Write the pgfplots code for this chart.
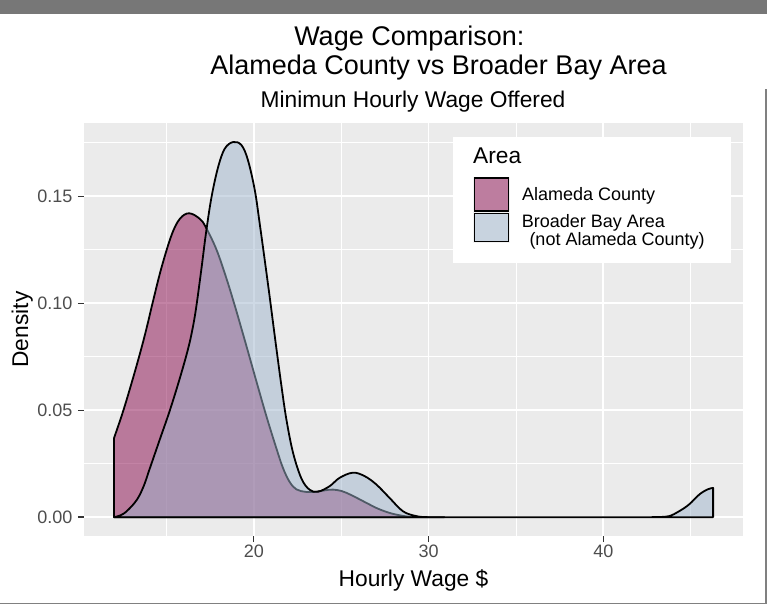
\documentclass[border=0pt]{standalone}
\usepackage{fontspec}
\setmainfont{Liberation Sans}
\usepackage{pgfplots}
\usepackage{pgfplotstable}
\pgfplotsset{compat=1.18}
\definecolor{panelbg}{HTML}{EBEBEB}
\definecolor{alam}{RGB}{137,9,77}
\definecolor{bay}{RGB}{159,181,205}
\definecolor{ticklab}{HTML}{4D4D4D}
\definecolor{tickcol}{HTML}{333333}
\definecolor{topbar}{HTML}{777777}
\definecolor{keybg}{HTML}{F2F2F2}

\pgfplotstableread{
x d
12.00 0.0369
12.53 0.0497
13.10 0.0653
13.58 0.0793
13.90 0.0895
14.25 0.1015
14.73 0.1170
15.30 0.1320
15.77 0.1395
16.30 0.1421
16.91 0.1395
17.26 0.1355
17.87 0.1250
18.44 0.1115
18.91 0.0990
19.30 0.0880
19.58 0.0800
20.15 0.0635
20.73 0.0470
21.30 0.0320
21.67 0.0230
22.05 0.0165
22.44 0.0130
23.00 0.0118
23.58 0.0119
24.10 0.0126
24.53 0.0129
25.00 0.0123
25.30 0.0114
25.90 0.0090
26.44 0.0067
27.10 0.0040
27.77 0.0020
28.40 0.0008
28.91 0.0002
29.50 0.0000
30.20 0.0000
30.90 0.0000
}\alameda

\pgfplotstableread{
x d
12.00 0.0000
12.35 0.0008
12.73 0.0028
13.30 0.0080
13.70 0.0145
14.06 0.0230
14.63 0.0365
15.20 0.0500
15.77 0.0650
16.25 0.0790
16.53 0.0895
16.73 0.0995
17.01 0.1165
17.26 0.1325
17.58 0.1496
17.96 0.1637
18.34 0.1723
18.82 0.1754
19.30 0.1739
19.67 0.1668
20.06 0.1528
20.34 0.1372
20.63 0.1200
20.91 0.1030
21.10 0.0910
21.30 0.0785
21.58 0.0615
21.87 0.0455
22.25 0.0300
22.73 0.0180
23.20 0.0128
23.67 0.0119
24.34 0.0145
24.91 0.0184
25.67 0.0208
26.34 0.0192
27.01 0.0153
27.77 0.0090
28.53 0.0028
29.30 0.0005
30.00 0.0000
31.00 0.0000
32.50 0.0000
34.00 0.0000
35.50 0.0000
37.00 0.0000
38.50 0.0000
40.00 0.0000
41.50 0.0000
42.50 0.0000
43.20 0.0001
43.77 0.0005
44.34 0.0028
44.91 0.0060
45.49 0.0106
45.96 0.0130
46.28 0.0137
}\bay

\begin{document}
\begin{tikzpicture}
\useasboundingbox (0,0) rectangle (767bp,-604bp);
\begin{axis}[
  at={(84bp,-536bp)}, anchor=south west,
  scale only axis, width=659bp, height=413bp,
  xmin=10.286, xmax=47.99, ymin=-0.0088, ymax=0.1843,
  axis background/.style={fill=panelbg},
  axis line style={draw=none},
  xtick={20,30,40}, minor xtick={15,25,35,45},
  ytick={0,0.05,0.10,0.15}, minor ytick={0.025,0.075,0.125,0.175},
  grid=both,
  major grid style={white, line width=1.8bp},
  minor grid style={white, line width=0.9bp},
  tick pos=left, tick align=outside,
  major tick length=6bp, minor tick length=0pt,
  tick style={color=tickcol, line width=1.4bp},
  tick label style={font=\fontsize{18bp}{20bp}\selectfont, text=ticklab},
  yticklabel style={xshift=-2bp},
  xticklabel style={yshift=1bp},
  yticklabel={\pgfmathprintnumber[fixed,fixed zerofill,precision=2,assume math mode=true]{\tick}},
  xticklabel={\pgfmathprintnumber[assume math mode=true]{\tick}},
]
\addplot[draw=black, line width=1.8bp, line join=round, fill=alam, fill opacity=0.5, smooth, tension=0.6] table[x=x,y=d] {\alameda} \closedcycle;
\addplot[draw=black, line width=1.8bp, line join=round, fill=bay, fill opacity=0.5, smooth, tension=0.6] table[x=x,y=d] {\bay} \closedcycle;
\end{axis}
\begin{scope}[x=1bp,y=-1bp]
\fill[topbar] (0,0) rectangle (767,13.5);
\draw[gray, line width=1.2bp] (766,89) -- (766,603.4) -- (0,603.4);
\node[anchor=base, font=\fontsize{27bp}{30bp}\selectfont, inner sep=0] at (409.3,45.5) {Wage Comparison:};
\node[anchor=base, font=\fontsize{27bp}{30bp}\selectfont, inner sep=0] at (438.5,74.5) {Alameda County vs Broader Bay Area};
\node[anchor=base, font=\fontsize{22.75bp}{25bp}\selectfont, inner sep=0] at (413,107) {Minimun Hourly Wage Offered};
\node[anchor=base, font=\fontsize{22.75bp}{25bp}\selectfont, inner sep=0] at (413.5,586.5) {Hourly Wage \$};
\node[anchor=base, rotate=90, font=\fontsize{22.75bp}{25bp}\selectfont, inner sep=0] at (28,329.5) {Density};
% legend
\fill[white] (453,137) rectangle (731,263);
\node[anchor=base west, font=\fontsize{22.75bp}{25bp}\selectfont, inner sep=0] at (473,163) {Area};
\fill[keybg] (473,177) rectangle (510,212);
\fill[keybg] (473,212) rectangle (510,243);
\filldraw[fill=alam, fill opacity=0.5, draw=black, line width=1.5bp] (474.5,178) rectangle (508.5,211);
\filldraw[fill=bay, fill opacity=0.5, draw=black, line width=1.5bp] (474.5,213.5) rectangle (508.5,241.5);
\node[anchor=base west, font=\fontsize{18bp}{20bp}\selectfont, inner sep=0] at (522,200) {Alameda County};
\node[anchor=base west, font=\fontsize{18bp}{20bp}\selectfont, inner sep=0] at (521.7,227.5) {Broader Bay Area};
\node[anchor=base west, font=\fontsize{18bp}{20bp}\selectfont, inner sep=0] at (529.3,245) {(not Alameda County)};
\end{scope}
\end{tikzpicture}
\end{document}
